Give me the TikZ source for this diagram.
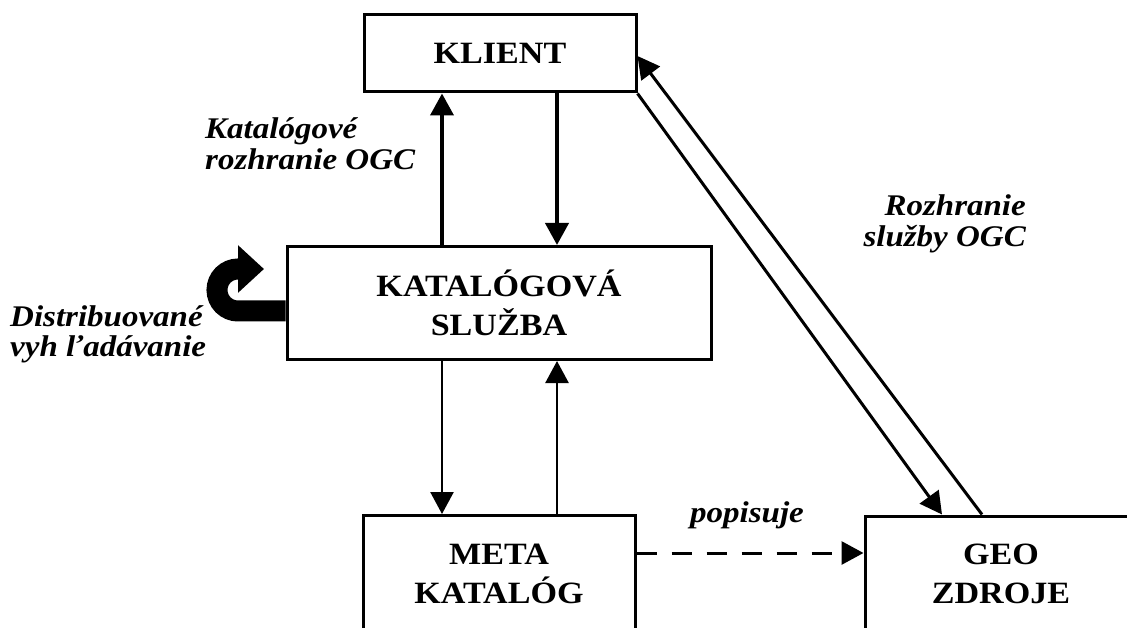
\documentclass[tikz,border=0pt]{standalone}
\usepackage{fontspec}
\setmainfont{Liberation Serif}[FakeStretch=1.1]
\usetikzlibrary{arrows.meta}
\begin{document}
\begin{tikzpicture}[x=1pt,y=-1pt,
  box/.style={draw, line width=3pt, inner sep=0pt, align=center,
    font=\bfseries\fontsize{31}{39}\selectfont},
  lbl/.style={inner sep=0pt, font=\bfseries\itshape\fontsize{30}{31}\selectfont},
  tip/.style={-{Triangle[length=22pt 0 0,width=23pt 0 0]}},
  thickarrow/.style={tip, line width=4pt},
  thinarrow/.style={tip, line width=2.5pt},
  diagarrow/.style={tip, line width=3pt},
  dasharrow/.style={tip, line width=3pt, dash pattern=on 20pt off 15pt}]
\clip (0,0) rectangle (1127,628);
\fill[white] (0,0) rectangle (1127,628);
% boxes
\node[box, minimum width=272pt, minimum height=77pt] (kl) at (500,53.5) {KLIENT};
\node[box, minimum width=424pt, minimum height=113pt] (ks) at (499,303) {KATALÓGOVÁ\\SLUŽBA};
\node[box, minimum width=272pt, minimum height=116pt] (mk) at (499,573.5) {META\\KATALÓG};
\node[box, minimum width=272pt, minimum height=116pt] (gz) at (1001,574) {GEO\\ZDROJE};
% helper coordinates
\coordinate (xa) at (442,0);
\coordinate (xb) at (557,0);
\coordinate (xc) at (942,0);
\coordinate (xd) at (982,0);
\coordinate (yd) at (0,553);
\coordinate (ye) at (0,56);
\coordinate (yc) at (0,311);
% vertical arrows
\draw[thickarrow] (ks.north -| xa) -- (kl.south -| xa);
\draw[thickarrow] (kl.south -| xb) -- (ks.north -| xb);
\draw[thinarrow] (ks.south -| xa) -- (mk.north -| xa);
\draw[thinarrow] (mk.north -| xb) -- (ks.south -| xb);
% dashed
\draw[dasharrow] (mk.east |- yd) -- (gz.west |- yd);
% diagonals
\draw[diagarrow] (kl.south east) -- (gz.north -| xc);
\draw[diagarrow] (gz.north -| xd) -- (kl.east |- ye);
% curved arrow
\draw[line width=21pt, -{Triangle[length=26pt 0 0,width=46pt 0 0]}]
  (ks.west |- yc) -- (238,311) .. controls (226.4,311) and (217,301.6) .. (217,290)
  .. controls (217,278.4) and (226.4,269) .. (238,269) -- (264,269);
% labels (base anchor = baseline of the last line)
\node[lbl, anchor=base west, align=left] (l1) at (205,170) {Katalógové\\rozhranie OGC};
\node[lbl, anchor=base east, align=right] (l2) at (1026,247) {Rozhranie\\služby OGC};
\node[lbl, anchor=base west, align=left, font=\bfseries\itshape\fontsize{30}{30}\selectfont] (l3) at (10,356) {Distribuované\\vyh ľadávanie};
\node[lbl, anchor=base west] (l4) at (690,522) {popisuje};
\end{tikzpicture}
\end{document}
